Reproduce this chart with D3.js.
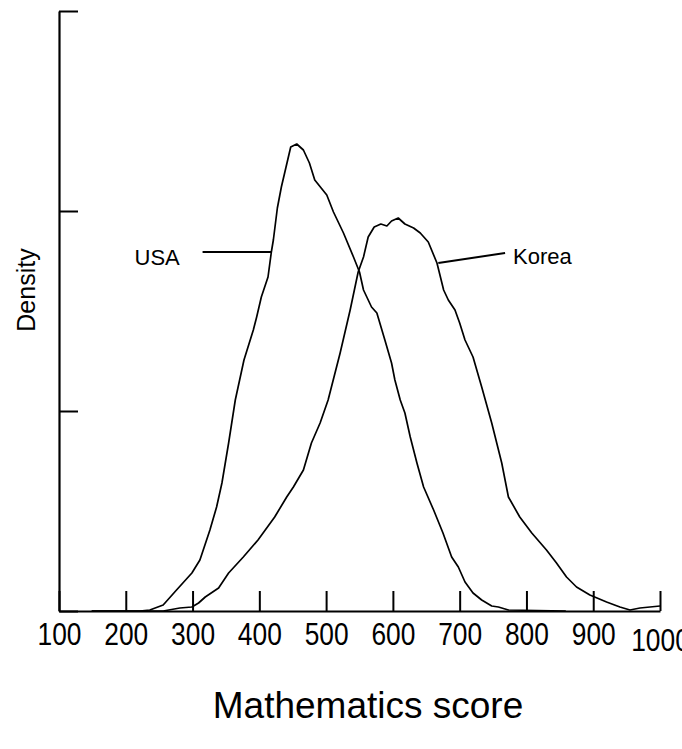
<!DOCTYPE html>
<html>
<head>
<meta charset="utf-8">
<script src="https://cdn.jsdelivr.net/npm/d3@7"></script>
<style>
  html, body { margin: 0; padding: 0; background: #fff; }
  svg { display: block; }
  text { font-family: "Liberation Sans", Arial, sans-serif; fill: #000; }
</style>
</head>
<body>
<svg id="chart" width="682" height="749"></svg>
<script>
// ---- data ----
const xTickValues = [100, 200, 300, 400, 500, 600, 700, 800, 900, 1000];
const xTickLabels = ["100", "200", "300", "400", "500", "600", "700", "800", "900", "1000"];
const yTickValues = [0, 0.002, 0.004, 0.006];

const usaScore = [149, 221, 236, 256, 276, 299, 311, 326, 336, 344, 354, 364, 377, 391, 396, 403, 413, 418, 421, 427, 433, 440, 447, 456, 466, 475, 483, 501, 511, 526, 541, 550, 556, 568, 576, 588, 598, 603, 611, 618, 626, 636, 646, 661, 675, 688, 698, 708, 720, 733, 748, 758, 773, 859];
const usaDensity = [0, 0, 0.00001, 0.00006, 0.00021, 0.00038, 0.00051, 0.00081, 0.00104, 0.00128, 0.00168, 0.00211, 0.00251, 0.00281, 0.00294, 0.00314, 0.00334, 0.00359, 0.00371, 0.00403, 0.00424, 0.00444, 0.00464, 0.00467, 0.00461, 0.00448, 0.00431, 0.00416, 0.00399, 0.00378, 0.00354, 0.00339, 0.00321, 0.00304, 0.00298, 0.00271, 0.00248, 0.00231, 0.00211, 0.00198, 0.00174, 0.00148, 0.00124, 0.00101, 0.00078, 0.00054, 0.00044, 0.00029, 0.00018, 0.00011, 0.00005, 0.00004, 0.00001, 0];

const koreaScore = [149, 256, 281, 299, 309, 319, 339, 354, 376, 398, 423, 441, 451, 466, 478, 491, 503, 521, 536, 548, 556, 563, 572, 582, 591, 598, 608, 618, 631, 641, 653, 666, 676, 683, 693, 700, 708, 720, 733, 748, 763, 773, 790, 808, 830, 845, 860, 875, 895, 920, 940, 955, 970, 985, 1000];
const koreaDensity = [0, 0, 0.00003, 0.00004, 0.00008, 0.00014, 0.00023, 0.00038, 0.00054, 0.00071, 0.00094, 0.00114, 0.00124, 0.00141, 0.00168, 0.00188, 0.00211, 0.00258, 0.00301, 0.00339, 0.00354, 0.00374, 0.00384, 0.00387, 0.00385, 0.0039, 0.00393, 0.00387, 0.00383, 0.00378, 0.00369, 0.00348, 0.00321, 0.00311, 0.00301, 0.00288, 0.00271, 0.00254, 0.00224, 0.00188, 0.00148, 0.00114, 0.00094, 0.00078, 0.00061, 0.00048, 0.00034, 0.00024, 0.00016, 0.00009, 0.00004, 0.00001, 0.00003, 0.00004, 0.00005];

const seriesNames = ["USA", "Korea"];
// label text position (score, density) and leader line ends
const labelScores = [247, 780];
const labelDensities = [0.00354, 0.00355];
const leaderStart = [[315, 0.00359], [768, 0.00358]];
const leaderEnd = [[418, 0.00359], [668, 0.00348]];

// ---- layout ----
const svg = d3.select("#chart");
const x = d3.scaleLinear().domain([100, 1000]).range([59, 660]);
const y = d3.scaleLinear().domain([0, 0.006]).range([611, 11]);

// curves
const line = d3.line().x((d) => x(d[0])).y((d) => y(d[1]));
const usa = usaScore.map((s, i) => [s, usaDensity[i]]);
const korea = koreaScore.map((s, i) => [s, koreaDensity[i]]);

svg.append("g").selectAll("path")
  .data([usa, korea])
  .join("path")
  .attr("d", line)
  .attr("fill", "none")
  .attr("stroke", "#000")
  .attr("stroke-width", 1.7)
  .attr("stroke-linejoin", "round");

// x axis
const xAxis = svg.append("g")
  .attr("transform", `translate(0,${y(0)})`)
  .call(d3.axisBottom(x)
    .tickValues(xTickValues)
    .tickFormat((d, i) => xTickLabels[i])
    .tickSizeInner(-20)
    .tickSizeOuter(0)
    .tickPadding(12));
xAxis.select(".domain").attr("stroke-width", 2.2);
xAxis.selectAll(".tick line").attr("stroke-width", 2);
xAxis.selectAll(".tick text")
  .attr("font-size", 31)
  .attr("font-family", "Liberation Sans, Arial, sans-serif")
  .attr("fill", "#000")
  .attr("transform", "scale(0.85,1)")
  .attr("dy", (d) => d === 1000 ? "0.9em" : "0.71em");

// y axis
const yAxis = svg.append("g")
  .attr("transform", `translate(${x(100)},0)`)
  .call(d3.axisLeft(y)
    .tickValues(yTickValues)
    .tickFormat("")
    .tickSizeInner(-19)
    .tickSizeOuter(0));
yAxis.select(".domain").attr("stroke-width", 2.2);
yAxis.selectAll(".tick line").attr("stroke-width", 2);

// series labels and leader lines
const labG = svg.append("g");
labG.selectAll("text")
  .data(seriesNames)
  .join("text")
  .attr("x", (d, i) => x(labelScores[i]))
  .attr("y", (d, i) => y(labelDensities[i]))
  .attr("dy", "0.35em")
  .attr("font-size", 22)
  .attr("text-anchor", (d, i) => i === 0 ? "middle" : "start")
  .text((d) => d);
labG.selectAll("line")
  .data(seriesNames)
  .join("line")
  .attr("x1", (d, i) => x(leaderStart[i][0]))
  .attr("y1", (d, i) => y(leaderStart[i][1]))
  .attr("x2", (d, i) => x(leaderEnd[i][0]))
  .attr("y2", (d, i) => y(leaderEnd[i][1]))
  .attr("stroke", "#000")
  .attr("stroke-width", 2);

// axis titles
svg.append("text")
  .attr("x", 368)
  .attr("y", 718)
  .attr("text-anchor", "middle")
  .attr("font-size", 37)
  .text("Mathematics score");

svg.append("text")
  .attr("transform", "translate(35,290) rotate(-90)")
  .attr("text-anchor", "middle")
  .attr("font-size", 25)
  .text("Density");
</script>
</body>
</html>
